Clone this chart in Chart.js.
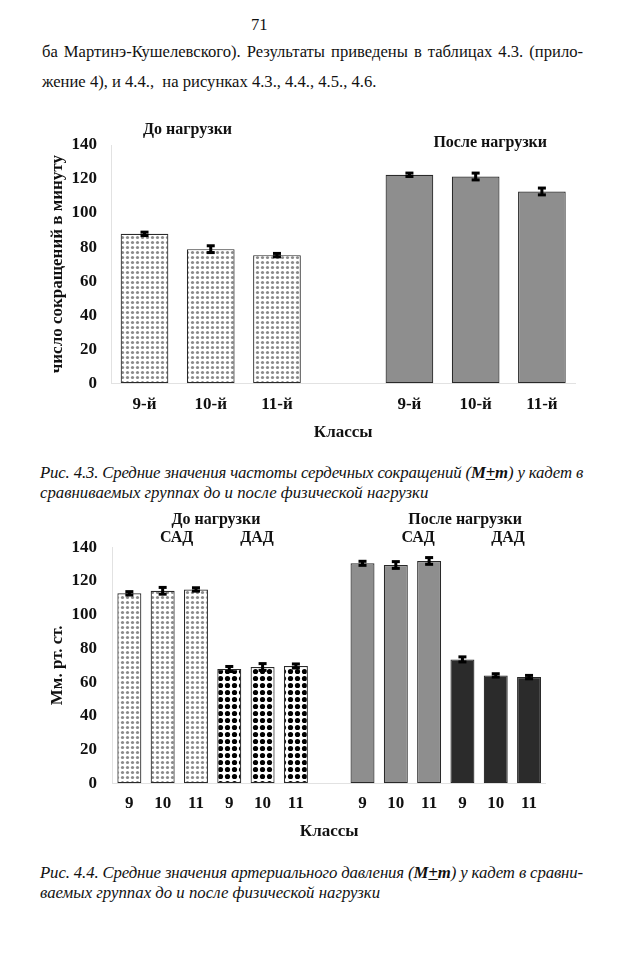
<!DOCTYPE html>
<html lang="ru">
<head>
<meta charset="utf-8">
<title>Рис. 4.3, 4.4</title>
<script src="https://cdn.jsdelivr.net/npm/chart.js@4.4.1/dist/chart.umd.min.js"></script>
<style>
  html, body { margin: 0; padding: 0; background: #fff; }
  body { width: 628px; height: 960px; position: relative; overflow: hidden; color: #111; }
  .t { position: absolute; font-family: 'Liberation Serif', serif; font-size: 16.6px;
       line-height: 20px; white-space: nowrap; }
  .cap { font-style: italic; font-size: 16.8px; }
  canvas { position: absolute; left: 0; }
</style>
</head>
<body>
<div class="t" style="left:251px; top:15px;">71</div>
<div class="t fit" data-w="541" style="left:42px; top:42px;">ба Мартинэ-Кушелевского). Результаты приведены в таблицах 4.3. (прило-</div>
<div class="t" style="left:42px; top:72px;">жение 4), и 4.4.,&nbsp; на рисунках 4.3., 4.4., 4.5., 4.6.</div>

<canvas id="hrChart" width="628" height="340" style="top:110px"></canvas>

<div class="t cap fit" data-w="543" style="left:40px; top:463px;">Рис. 4.3. Средние значения частоты сердечных сокращений (<b>M<u>+</u>m</b>) у кадет в</div>
<div class="t cap" style="left:40px; top:483px;">сравниваемых группах до и после физической нагрузки</div>

<canvas id="bpChart" width="628" height="350" style="top:500px"></canvas>

<div class="t cap fit" data-w="543" style="left:40px; top:863px;">Рис. 4.4. Средние значения артериального давления (<b>M<u>+</u>m</b>) у кадет в сравни-</div>
<div class="t cap" style="left:40px; top:883px;">ваемых группах до и после физической нагрузки</div>

<script>
// Рис. 4.3 - ЧСС
const classesHr = ['9-й', '10-й', '11-й'];
const hrBefore = [87.8, 78.8, 75.3];
const hrBeforeErr = [1.0, 2.0, 1.0];
const hrAfter = [122.5, 121.5, 112.7];
const hrAfterErr = [1.0, 2.0, 2.0];

// Рис. 4.4 - АД
const classesBp = ['9', '10', '11'];
const sadBefore = [112.7, 114.2, 115.0];
const sadBeforeErr = [1.0, 2.0, 1.0];
const dadBefore = [67.8, 69.0, 69.6];
const dadBeforeErr = [1.5, 2.0, 1.2];
const sadAfter = [130.5, 129.5, 131.9];
const sadAfterErr = [1.2, 2.0, 2.0];
const dadAfter = [73.5, 64.0, 63.0];
const dadAfterErr = [1.5, 1.0, 1.0];

const yTicks = { min: 0, max: 140, step: 20 };

const FONT = "'Liberation Serif', serif";

// justified lines: stretch or squeeze each line to its target width
document.querySelectorAll('.fit').forEach(el => {
    const target = Number(el.dataset.w);
    const spaces = (el.textContent.match(/ /g) || []).length;
    const natural = el.getBoundingClientRect().width;
    if (natural <= target) {
        el.style.wordSpacing = ((target - natural) / spaces) + 'px';
    } else {
        const chars = el.textContent.length;
        el.style.letterSpacing = (-(natural - target) / chars) + 'px';
    }
});

function dotPattern(size, bg, dot, r) {
    const c = document.createElement('canvas');
    c.width = size; c.height = size;
    const g = c.getContext('2d');
    g.fillStyle = bg;
    g.fillRect(0, 0, size, size);
    g.fillStyle = dot;
    g.beginPath();
    g.arc(size / 2, size / 2, r, 0, Math.PI * 2);
    g.fill();
    return g.createPattern(c, 'repeat');
}

const lightDots = dotPattern(5, '#ffffff', '#8a8a8a', 1.6);
const blackDots = dotPattern(7, '#ffffff', '#000000', 2.6);

const pad = (n) => Array(n).fill(null);

const errorBars = {
    id: 'errorBars',
    afterDatasetsDraw(chart) {
        const ctx = chart.ctx;
        const y = chart.scales.y;
        chart.data.datasets.forEach((ds, i) => {
            const meta = chart.getDatasetMeta(i);
            meta.data.forEach((bar, j) => {
                const v = ds.data[j];
                const e = ds.errors ? ds.errors[j] : null;
                if (v == null || e == null) return;
                const top = y.getPixelForValue(v + e);
                const bot = y.getPixelForValue(v - e);
                ctx.save();
                ctx.fillStyle = '#000';
                ctx.fillRect(bar.x - 1.5, top, 3, bot - top);
                ctx.fillRect(bar.x - 4, top - 1.5, 8, 3);
                ctx.fillRect(bar.x - 4, bot - 1.5, 8, 3);
                ctx.restore();
            });
        });
    }
};

const groupLabels = {
    id: 'groupLabels',
    afterDraw(chart, args, opts) {
        const ctx = chart.ctx;
        const x = chart.scales.x;
        ctx.save();
        ctx.fillStyle = '#111';
        ctx.font = 'bold 16px ' + FONT;
        ctx.textAlign = 'center';
        ctx.textBaseline = 'middle';
        (opts.items || []).forEach(it => {
            ctx.fillText(it.text, x.getPixelForValue(it.at), it.y);
        });
        ctx.restore();
    }
};

function baseOptions(cfg) {
    return {
        responsive: false,
        animation: false,
        layout: { padding: { top: cfg.top, right: cfg.right, left: 0, bottom: 0 } },
        plugins: {
            legend: { display: false },
            tooltip: { enabled: false },
            groupLabels: { items: cfg.labels }
        },
        datasets: {
            bar: {
                grouped: false,
                categoryPercentage: 1.0,
                barPercentage: 0.72,
                borderWidth: 1.2,
                borderColor: '#2a2a2a',
                borderSkipped: false
            }
        },
        scales: {
            x: {
                grid: { display: false, drawTicks: false },
                border: { color: '#e2e2e2', width: 1 },
                ticks: {
                    autoSkip: false, maxRotation: 0, padding: cfg.xTickPad,
                    color: '#111', font: { family: FONT, size: 17, weight: 'bold' }
                },
                title: {
                    display: true, text: 'Классы', color: '#111',
                    padding: { top: 0, bottom: cfg.xTitlePad },
                    font: { family: FONT, size: 17, weight: 'bold' }
                },
                afterFit: s => { s.height = cfg.xHeight; }
            },
            y: {
                min: yTicks.min, max: yTicks.max,
                grid: { display: false, drawTicks: false },
                border: { color: '#e2e2e2', width: 1 },
                ticks: {
                    stepSize: yTicks.step, padding: cfg.yTickPad,
                    color: '#111', font: { family: FONT, size: 17, weight: 'bold' }
                },
                title: {
                    display: true, text: cfg.yTitle, color: '#111',
                    padding: { top: 47.8, bottom: 0 },
                    font: { family: FONT, size: 17, weight: 'bold' }
                },
                afterFit: s => { s.width = cfg.yWidth; }
            }
        }
    };
}

// Рис. 4.3
new Chart(document.getElementById('hrChart').getContext('2d'), {
    type: 'bar',
    data: {
        labels: [...classesHr, '', ...classesHr],
        datasets: [
            {
                data: [...hrBefore, ...pad(4)],
                errors: [...hrBeforeErr, ...pad(4)],
                backgroundColor: lightDots
            },
            {
                data: [...pad(4), ...hrAfter],
                errors: [...pad(4), ...hrAfterErr],
                backgroundColor: '#8e8e8e'
            }
        ]
    },
    options: baseOptions({
        top: 35, right: 53, yWidth: 111.4, xHeight: 66.7,
        xTickPad: 11, xTitlePad: 6.8, yTickPad: 14.4,
        yTitle: 'число сокращений в минуту',
        labels: [
            { text: 'До нагрузки', at: 0.65, y: 20 },
            { text: 'После нагрузки', at: 5.22, y: 33.3 }
        ]
    }),
    plugins: [errorBars, groupLabels]
});

// Рис. 4.4
new Chart(document.getElementById('bpChart').getContext('2d'), {
    type: 'bar',
    data: {
        labels: [...classesBp, ...classesBp, '', ...classesBp, ...classesBp],
        datasets: [
            {
                data: [...sadBefore, ...pad(10)],
                errors: [...sadBeforeErr, ...pad(10)],
                backgroundColor: lightDots
            },
            {
                data: [...pad(3), ...dadBefore, ...pad(7)],
                errors: [...pad(3), ...dadBeforeErr, ...pad(7)],
                backgroundColor: blackDots
            },
            {
                data: [...pad(7), ...sadAfter, ...pad(3)],
                errors: [...pad(7), ...sadAfterErr, ...pad(3)],
                backgroundColor: '#8e8e8e'
            },
            {
                data: [...pad(10), ...dadAfter],
                errors: [...pad(10), ...dadAfterErr],
                backgroundColor: '#2b2b2b'
            }
        ]
    },
    options: baseOptions({
        top: 47.3, right: 82.3, yWidth: 112.7, xHeight: 66.7,
        xTickPad: 10, xTitlePad: 7.8, yTickPad: 15.7,
        yTitle: 'Мм. рт. ст.',
        labels: [
            { text: 'До нагрузки', at: 2.6, y: 20 },
            { text: 'САД', at: 1.42, y: 38.3 },
            { text: 'ДАД', at: 3.83, y: 38.3 },
            { text: 'После нагрузки', at: 10.08, y: 20 },
            { text: 'САД', at: 8.67, y: 38.3 },
            { text: 'ДАД', at: 11.37, y: 38.3 }
        ]
    }),
    plugins: [errorBars, groupLabels]
});
</script>
</body>
</html>
